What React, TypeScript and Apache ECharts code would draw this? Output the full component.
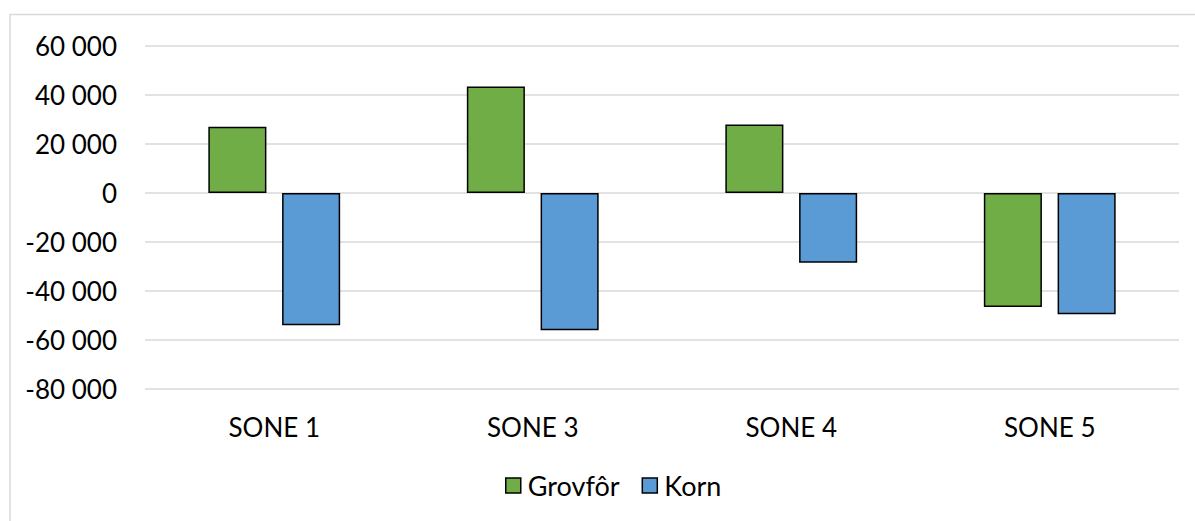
import React, { useEffect, useRef } from "react";
import * as echarts from "echarts";

const categories = ["SONE 1", "SONE 3", "SONE 4", "SONE 5"];
const grovfor = [27000, 43500, 28000, -46500];
const korn = [-54000, -56000, -28500, -49500];
const seriesNames = ["Grovfôr", "Korn"];

const FONT = "Lato";

function fmt(v: number): string {
  const s = Math.abs(v).toString().replace(/\B(?=(\d{3})+(?!\d))/g, " ");
  return (v < 0 ? "-" : "") + s;
}

export default function App() {
  const ref = useRef<HTMLDivElement>(null);
  useEffect(() => {
    if (!ref.current) return;
    const chart = echarts.init(ref.current, undefined, { renderer: "svg" });
    chart.setOption({
      animation: false,
      backgroundColor: "#ffffff",
      graphic: [
        {
          type: "rect",
          shape: { x: 10, y: 14.5, width: 1200, height: 520 },
          style: { fill: "none", stroke: "#d9d9d9", lineWidth: 1.5 },
          silent: true,
        },
      ],
      grid: { left: 145, right: 16, top: 46, bottom: 132, containLabel: false },
      legend: {
        data: seriesNames,
        bottom: 17,
        left: 500,
        itemWidth: 15,
        itemHeight: 15,
        itemGap: 22,
        icon: "rect",
        textStyle: { fontFamily: FONT, fontSize: 27, color: "#000", padding: [0, 0, 0, 2] },
        itemStyle: { borderColor: "#000", borderWidth: 1.5 },
      },
      xAxis: {
        type: "category",
        data: categories,
        position: "bottom",
        axisLine: { show: false, onZero: false },
        axisTick: { show: false },
        axisLabel: { fontFamily: FONT, fontSize: 26, color: "#000", margin: 25 },
      },
      yAxis: {
        type: "value",
        min: -80000,
        max: 60000,
        interval: 20000,
        axisLine: { show: false },
        axisTick: { show: false },
        splitLine: { lineStyle: { color: "#d9d9d9", width: 1.5 } },
        axisLabel: {
          fontFamily: FONT,
          fontSize: 26,
          color: "#000",
          margin: 28,
          formatter: (v: number) => fmt(v),
        },
      },
      series: [
        {
          name: seriesNames[0],
          type: "bar",
          data: grovfor,
          barGap: "27%",
          barCategoryGap: "49%",
          itemStyle: { color: "#70ad47", borderColor: "#000", borderWidth: 1.5 },
        },
        {
          name: seriesNames[1],
          type: "bar",
          data: korn,
          itemStyle: { color: "#5b9bd5", borderColor: "#000", borderWidth: 1.5 },
        },
      ],
    });
    return () => chart.dispose();
  }, []);
  return (
    <div
      ref={ref}
      style={{ position: "fixed", left: 0, top: 0, width: 1195, height: 521 }}
    />
  );
}
